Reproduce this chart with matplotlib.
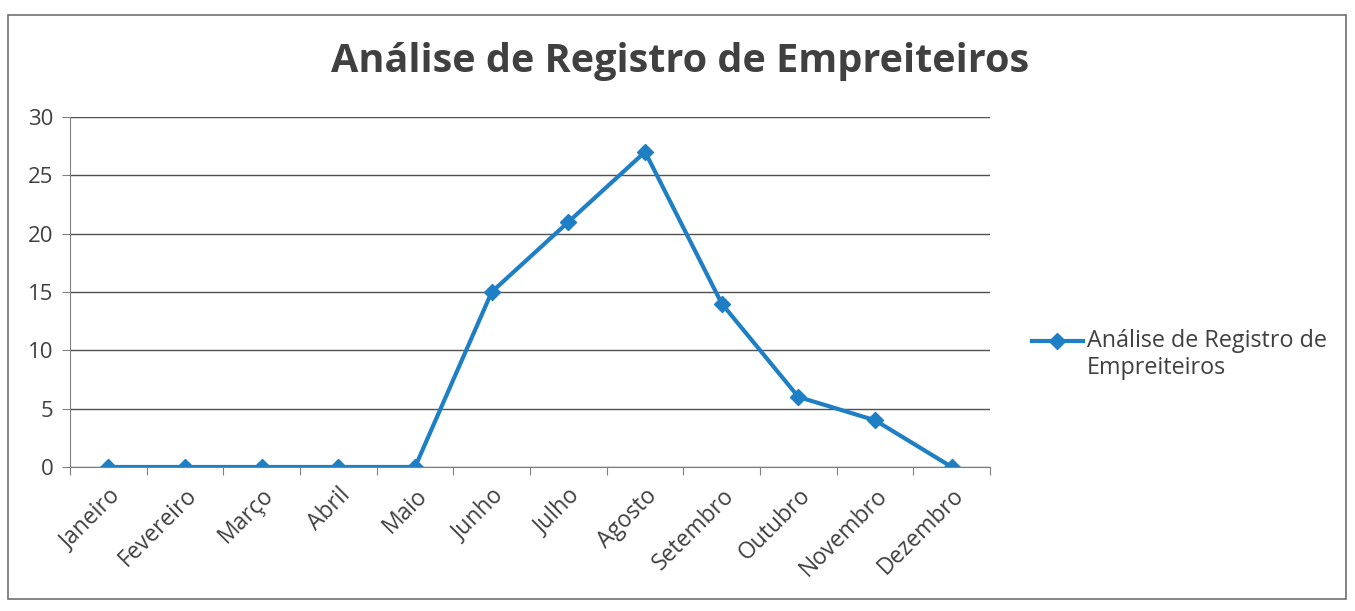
import matplotlib
matplotlib.use("Agg")
import matplotlib.pyplot as plt
from matplotlib.patches import Rectangle
from matplotlib.legend_handler import HandlerLine2D
from matplotlib.lines import Line2D

months = ["Janeiro", "Fevereiro", "Março", "Abril", "Maio", "Junho",
          "Julho", "Agosto", "Setembro", "Outubro", "Novembro", "Dezembro"]
values = [0, 0, 0, 0, 0, 15, 21, 27, 14, 6, 4, 0]
series_name = "Análise de Registro de\nEmpreiteiros"
title = "Análise de Registro de Empreiteiros"
yticks = [0, 5, 10, 15, 20, 25, 30]

plt.rcParams['font.family'] = ['Open Sans', 'DejaVu Sans']
txt = "#404040"
blue = "#1f7fc4"

fig = plt.figure(figsize=(13.55, 6.11), dpi=100)
ax = fig.add_axes([0.0517, 0.2357, 0.679, 0.573])

x = [i + 0.5 for i in range(len(months))]
ax.plot(x, values, color=blue, lw=3, marker="D", ms=8, label=series_name)

ax.set_xlim(0, len(months))
ax.set_ylim(0, 30)
ax.set_yticks(yticks)
ax.set_yticklabels([str(v) for v in yticks], fontsize=16, color=txt)
ax.set_xticks(range(len(months) + 1))
ax.set_xticklabels([])
ax.set_xticks(x, minor=True)
ax.set_xticklabels(months, minor=True, rotation=45, ha="right", rotation_mode="anchor",
                   fontsize=16.5, color=txt)
ax.tick_params(axis="x", which="minor", length=0, pad=12)
ax.tick_params(axis="x", which="major", direction="out", length=6, color="#808080")
ax.tick_params(axis="y", direction="out", length=6, color="#808080", pad=6)
ax.grid(axis="y", color="#505050", lw=1)
ax.set_axisbelow(True)
for s in ["top", "right"]:
    ax.spines[s].set_visible(False)
for s in ["left", "bottom"]:
    ax.spines[s].set_color("#808080")

fig.text(0.502, 0.90, title, ha="center", va="center", fontsize=28.5,
         fontweight="bold", color=txt)


def _shift_up(legend_handle, orig_handle):
    legend_handle.update_from(orig_handle)
    legend_handle.set_ydata(legend_handle.get_ydata() + 10)


leg = fig.legend(loc="center left", bbox_to_anchor=(0.746, 0.42), frameon=False,
                 fontsize=16.8, handlelength=2.2, handletextpad=0.15,
                 handler_map={Line2D: HandlerLine2D(update_func=_shift_up)})
for t in leg.get_texts():
    t.set_color(txt)

fig.patches.append(Rectangle((0.006, 0.02), 0.987, 0.955, transform=fig.transFigure,
                             fill=False, edgecolor="#707070", lw=1.2))

fig.savefig("out.png", dpi=100)
